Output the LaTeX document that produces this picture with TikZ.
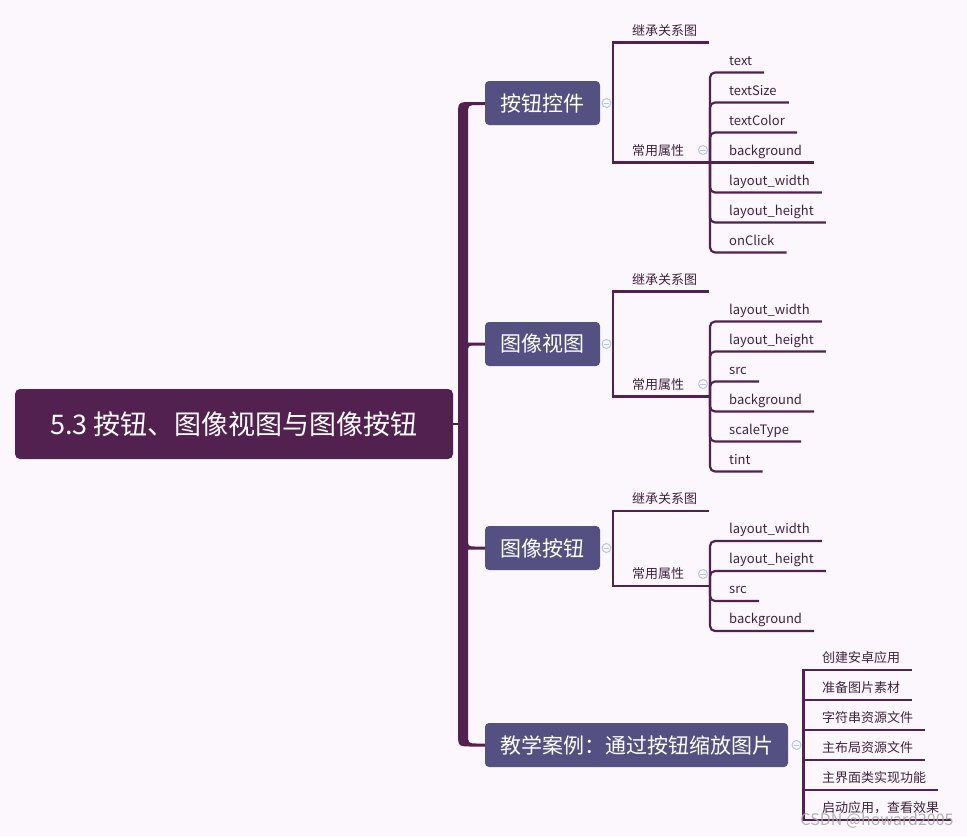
\documentclass[tikz,border=0pt]{standalone}
\usepackage{fontspec}
\setmainfont{Noto Sans CJK SC}
\definecolor{bg}{HTML}{FCF7FC}
\definecolor{rootc}{HTML}{53214F}
\definecolor{branchc}{HTML}{545182}
\definecolor{linec}{HTML}{53214F}
\definecolor{leaftext}{HTML}{3F2340}
\definecolor{togc}{HTML}{B7C6E6}
\begin{document}
\begin{tikzpicture}[x=1pt,y=-1pt,
 rootnode/.style={fill=rootc, text=white, rounded corners=5pt, minimum width=438pt, minimum height=70pt, font=\fontsize{27}{32}\selectfont, inner sep=0pt},
 branch/.style={fill=branchc, text=white, rounded corners=4pt, minimum height=44pt, minimum width=115pt, font=\fontsize{21}{25}\selectfont, inner sep=0pt},
 lbl/.style={text=leaftext, font=\fontsize{13}{15}\selectfont, inner sep=0pt, anchor=base west},
 leaf/.style={lbl},
 sub/.style={draw=linec, line width=2.2pt},
 leafl/.style={sub, rounded corners=5pt},
 toggle/.style={circle, draw=togc, fill=bg, line width=1pt, minimum size=9pt, inner sep=0pt,
   path picture={\draw[togc, line width=0.9pt] ([xshift=-2.6pt]path picture bounding box.center) -- ([xshift=2.6pt]path picture bounding box.center);}},
]
\useasboundingbox (0,0) rectangle (967,836);
\fill[bg] (0,0) rectangle (967,836);

% trunk
\fill[rootc] (485,102) -- (472,102) .. controls (458,102) .. (458,116) -- (458,732) .. controls (458,746.5) .. (472.5,746.5) -- (485,746.5) -- (485,743.5) -- (478,743.5) .. controls (468,743.5) .. (468,733.5) -- (468,549.5) -- (485,549.5) -- (485,546.5) -- (476,546.5) .. controls (468,546.5) .. (468,538.5) -- (468,353.5) .. controls (468,345.5) .. (476,345.5) -- (485,345.5) -- (485,342.5) -- (468,342.5) -- (468,115) .. controls (468,105) .. (478,105) -- (485,105) -- cycle;

% root
\node[rootnode] (r) at (234,424) {5.3 按钮、图像视图与图像按钮};
\coordinate (rt) at (459,424);
\draw[linec, line width=2pt] (r.east) -- (rt);

% ---------- branch 1
\node[branch] (b1) at (542.5,103) {按钮控件};
\node[toggle] (t1) at (606.5,103) {};
\coordinate (s1) at (613,103);
\node[lbl] (b1i) at (632,35) {继承关系图};
\node[lbl] (b1p) at (632,155) {常用属性};
\node[toggle] (t1p) at (703,150) {};
\coordinate (j1) at (710,162.5);
\draw[sub] (t1) -- (s1);
\draw[sub] (s1) |- ([xshift=12pt,yshift=-7.5pt]b1i.base east);
\draw[sub] (s1) |- (j1);
\foreach \n/\t/\y in {a1/text/72.5, a2/textSize/102.5, a3/textColor/132.5, a5/layout\_width/192.5, a6/layout\_height/222.5, a7/onClick/252.5} {
  \node[leaf] (\n) at (729,\y-7.5) {\t};
  \draw[leafl] (j1) |- ([xshift=12pt,yshift=-7.5pt]\n.base east);
}
\node[leaf] (a4) at (729,155) {background};
\draw[sub] (j1) -- ([xshift=12pt,yshift=-7.5pt]a4.base east);

% ---------- branch 2
\node[branch] (b2) at (542.5,344) {图像视图};
\node[toggle] (t2) at (606.5,344) {};
\coordinate (s2) at (613,344);
\node[lbl] (b2i) at (632,284) {继承关系图};
\node[lbl] (b2p) at (632,389) {常用属性};
\node[toggle] (t2p) at (703,384) {};
\coordinate (j2) at (710,396.5);
\draw[sub] (t2) -- (s2);
\draw[sub] (s2) |- ([xshift=12pt,yshift=-7.5pt]b2i.base east);
\draw[sub] (s2) |- (j2);
\foreach \n/\t/\y in {c1/layout\_width/321.5, c2/layout\_height/351.5, c3/src/381.5, c4/background/411.5, c5/scaleType/441.5, c6/tint/471.5} {
  \node[leaf] (\n) at (729,\y-7.5) {\t};
  \draw[leafl] (j2) |- ([xshift=12pt,yshift=-7.5pt]\n.base east);
}

% ---------- branch 3
\node[branch] (b3) at (542.5,548) {图像按钮};
\node[toggle] (t3) at (606.5,548) {};
\coordinate (s3) at (613,548);
\node[lbl] (b3i) at (632,503.5) {继承关系图};
\node[lbl] (b3p) at (632,578.5) {常用属性};
\node[toggle] (t3p) at (703,574) {};
\coordinate (j3) at (710,586);
\draw[sub] (t3) -- (s3);
\draw[sub] (s3) |- ([xshift=12pt,yshift=-7.5pt]b3i.base east);
\draw[sub] (s3) |- (j3);
\foreach \n/\t/\y in {d1/layout\_width/541, d2/layout\_height/571, d3/src/601, d4/background/631} {
  \node[leaf] (\n) at (729,\y-7.5) {\t};
  \draw[leafl] (j3) |- ([xshift=12pt,yshift=-7.5pt]\n.base east);
}

% ---------- branch 4
\node[branch, minimum width=303pt] (b4) at (636.5,745) {教学案例：通过按钮缩放图片};
\node[toggle] (t4) at (796.5,745) {};
\coordinate (s4) at (803.5,745);
\draw[sub] (t4) -- (s4);
\foreach \n/\t/\y in {e1/创建安卓应用/670, e2/准备图片素材/700, e3/字符串资源文件/730, e4/主布局资源文件/760, e5/主界面类实现功能/790, e6/启动应用，查看效果/820} {
  \node[leaf] (\n) at (822,\y-7.5) {\t};
  \draw[sub] (s4) |- ([xshift=12pt,yshift=-7.5pt]\n.base east);
}

% watermark
\node[text=gray!70, opacity=0.85, font=\fontsize{16}{18}\selectfont, inner sep=0pt] (wm) at (877,821) {CSDN @howard2005};
\end{tikzpicture}
\end{document}
